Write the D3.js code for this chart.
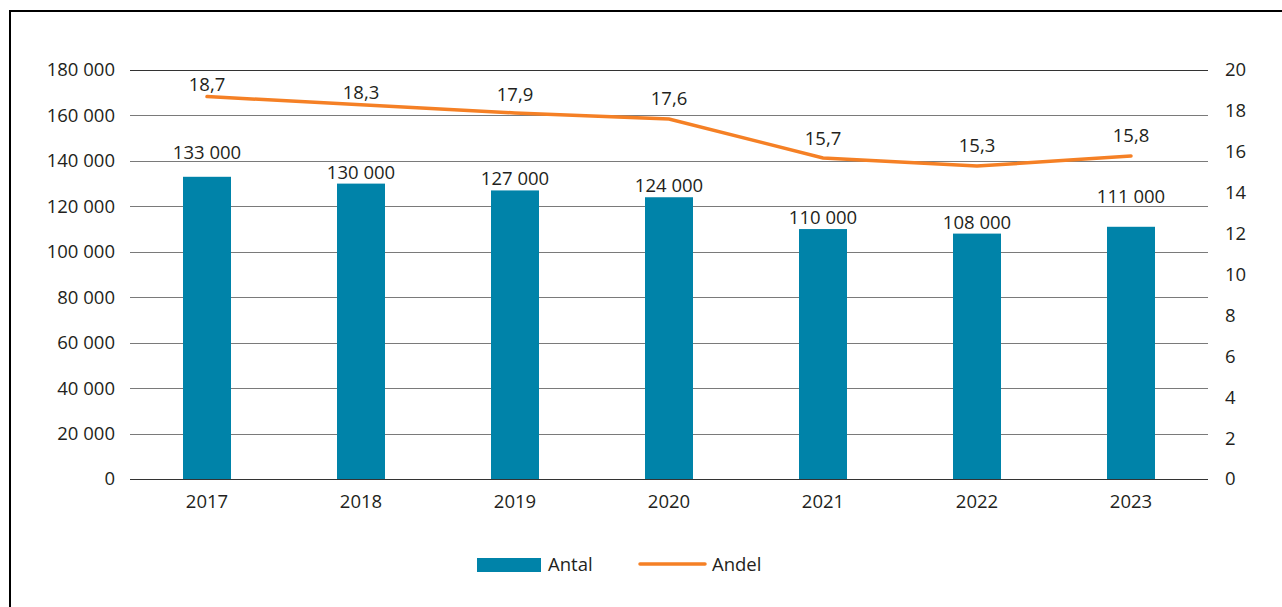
<!DOCTYPE html>
<html>
<head>
<meta charset="utf-8">
<script src="https://cdn.jsdelivr.net/npm/d3@7"></script>
<style>
  body { margin: 0; background: #fff; }
  text { font-family: "Open Sans", sans-serif; fill: #231f20; }
</style>
</head>
<body>
<div class="chart"></div>
<script>
const years = ["2017", "2018", "2019", "2020", "2021", "2022", "2023"]
const antal = [133000, 130000, 127000, 124000, 110000, 108000, 111000]
const andel = [18.7, 18.3, 17.9, 17.6, 15.7, 15.3, 15.8]
const leftTicks = [0, 20000, 40000, 60000, 80000, 100000, 120000, 140000, 160000, 180000]
const rightTicks = [0, 2, 4, 6, 8, 10, 12, 14, 16, 18, 20]

const width = 1282
const height = 607
const fs = 18.5
const svg = d3.select(".chart").append("svg")
    .attr("width", width)
    .attr("height", height)
    .attr("viewBox", [0, 0, width, height])
    .style("display", "block")

// frame
svg.append("rect")
    .attr("x", 10).attr("y", 11)
    .attr("width", 1280).attr("height", 620)
    .attr("fill", "none")
    .attr("stroke", "#000")
    .attr("stroke-width", 2)

const plotLeft = 130, plotRight = 1208, plotTop = 70, plotBottom = 479

const x = d3.scaleBand().domain(years).range([plotLeft, plotRight])
const y = d3.scaleLinear().domain([0, 180000]).range([plotBottom, plotTop])
const y2 = d3.scaleLinear().domain([0, 20]).range([plotBottom, plotTop])
const cx = i => x(years[i]) + x.bandwidth() / 2

const fmt = v => d3.format(",")(v).replace(/,/g, " ")
const fmtDec = v => d3.format(".1f")(v).replace(".", ",")

// grid
svg.append("g")
    .selectAll("line")
    .data(leftTicks)
    .join("line")
    .attr("x1", plotLeft).attr("x2", plotRight)
    .attr("y1", d => Math.round(y(d)) + 0.5)
    .attr("y2", d => Math.round(y(d)) + 0.5)
    .attr("stroke", d => d === 0 || d === 180000 ? "#333" : "#7a7a7a")
    .attr("stroke-width", 1.2)

// left axis
svg.append("g")
    .selectAll("text")
    .data(leftTicks)
    .join("text")
    .attr("x", 115)
    .attr("y", d => y(d))
    .attr("dy", "0.35em")
    .attr("text-anchor", "end")
    .attr("font-size", fs)
    .text(d => fmt(d))

// right axis
svg.append("g")
    .selectAll("text")
    .data(rightTicks)
    .join("text")
    .attr("x", 1225)
    .attr("y", d => y2(d))
    .attr("dy", "0.35em")
    .attr("font-size", fs)
    .text(d => d)

// x labels
svg.append("g")
    .selectAll("text")
    .data(years)
    .join("text")
    .attr("x", d => x(d) + x.bandwidth() / 2)
    .attr("y", plotBottom + 29)
    .attr("text-anchor", "middle")
    .attr("font-size", fs)
    .text(d => d)

// bars
const barW = 48
svg.append("g")
    .selectAll("rect")
    .data(antal)
    .join("rect")
    .attr("x", (d, i) => cx(i) - barW / 2)
    .attr("y", d => y(d))
    .attr("width", barW)
    .attr("height", d => plotBottom - y(d))
    .attr("fill", "#0083a9")

// label gaps as placed in the original (avoiding gridlines)
const barGap = [18, 5, 5, 5, 5, 5, 24]
const lineGap = [6, 6, 12, 14, 13, 14, 14]

svg.append("g")
    .selectAll("text")
    .data(antal)
    .join("text")
    .attr("x", (d, i) => cx(i))
    .attr("y", (d, i) => y(d) - barGap[i])
    .attr("text-anchor", "middle")
    .attr("font-size", fs)
    .text(d => fmt(d))

// line
const line = d3.line()
    .x((d, i) => cx(i))
    .y(d => y2(d))

svg.append("path")
    .datum(andel)
    .attr("d", line)
    .attr("fill", "none")
    .attr("stroke", "#f58025")
    .attr("stroke-width", 3.5)
    .attr("stroke-linecap", "round")

svg.append("g")
    .selectAll("text")
    .data(andel)
    .join("text")
    .attr("x", (d, i) => cx(i))
    .attr("y", (d, i) => y2(d) - lineGap[i])
    .attr("text-anchor", "middle")
    .attr("font-size", fs)
    .text(d => fmtDec(d))

// legend
const legend = svg.append("g")
legend.append("rect")
    .attr("x", 477).attr("y", 558)
    .attr("width", 64).attr("height", 14)
    .attr("fill", "#0083a9")
legend.append("text")
    .attr("x", 548).attr("y", 565)
    .attr("dy", "0.35em")
    .attr("font-size", fs)
    .text("Antal")
legend.append("line")
    .attr("x1", 640).attr("x2", 705)
    .attr("y1", 564).attr("y2", 564)
    .attr("stroke", "#f58025")
    .attr("stroke-width", 3.5)
    .attr("stroke-linecap", "round")
legend.append("text")
    .attr("x", 712).attr("y", 565)
    .attr("dy", "0.35em")
    .attr("font-size", fs)
    .text("Andel")
</script>
</body>
</html>
